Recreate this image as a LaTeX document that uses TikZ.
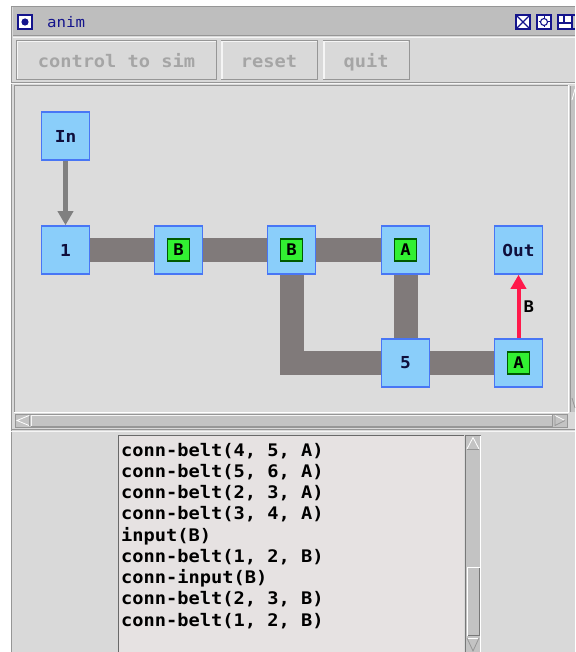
\documentclass[tikz,border=0pt]{standalone}
\usepackage{fontspec}
\newfontfamily\mono[FakeStretch=1.08]{DejaVu Sans Mono}
\usetikzlibrary{arrows.meta}
\definecolor{winbg}{RGB}{217,217,217}
\definecolor{titlebg}{RGB}{190,190,190}
\definecolor{canvasbg}{RGB}{220,220,220}
\definecolor{edgedark}{RGB}{150,150,150}
\definecolor{edgelight}{RGB}{245,245,245}
\definecolor{trough}{RGB}{195,195,195}
\definecolor{textbg}{RGB}{230,226,226}
\definecolor{navy}{RGB}{20,20,140}
\definecolor{nodetext}{RGB}{15,15,60}
\definecolor{nodefill}{RGB}{138,206,250}
\definecolor{nodeedge}{RGB}{72,118,245}
\definecolor{beltcol}{RGB}{128,122,122}
\definecolor{greenfill}{RGB}{50,240,50}
\definecolor{greenedge}{RGB}{0,90,0}
\definecolor{redarrow}{RGB}{255,25,75}
\definecolor{grayarrow}{RGB}{128,128,128}
\definecolor{btntext}{RGB}{165,165,165}
\begin{document}
\begin{tikzpicture}[x=1pt,y=-1pt,
  bluebox/.style={draw=nodeedge, line width=1.6pt, fill=nodefill, minimum size=48pt, inner sep=0pt,
    font=\mono\bfseries\fontsize{16.5}{16.5}\selectfont, text=nodetext},
  greenbox/.style={draw=greenedge, line width=1.3pt, fill=greenfill, minimum size=22pt, inner sep=0pt,
    font=\mono\bfseries\fontsize{16}{16}\selectfont, text=black},
  belt/.style={draw=beltcol, line width=24pt, line join=miter},
  btnlabel/.style={anchor=base, font=\mono\bfseries\fontsize{17.3}{17.3}\selectfont, text=btntext, inner sep=0pt},
  logline/.style={anchor=base west, font=\mono\bfseries\fontsize{17.3}{17.3}\selectfont, text=black, inner sep=0pt},
  button/.style={fill=winbg, draw=edgedark, line width=1pt}
]
\useasboundingbox (0,0) rectangle (575,652);
\fill[white] (0,0) rectangle (575,652);
% window body
\fill[winbg] (11,7) rectangle (575,652);
\draw[edgedark, line width=1.5pt] (11.5,652) -- (11.5,6.5) -- (575,6.5);
% title bar
\fill[titlebg] (12.5,7.5) rectangle (575,35);
\draw[edgedark, line width=1.2pt] (12.5,35.6) -- (575,35.6);
\draw[edgelight, line width=0.8pt] (12.5,37) -- (575,37);
% title icon
\draw[navy, line width=1.3pt, fill=white] (18,15) rectangle (32,29);
\fill[navy] (25,22) circle (3.6);
\node[anchor=base west, inner sep=0pt, text=navy, font=\mono\fontsize{14.6}{14.6}\selectfont] (title) at (47,28) {anim};
% right title icons
\draw[navy, line width=1.1pt, fill=white] (516,15) rectangle (530,29);
\draw[navy, line width=1.1pt] (516,15) -- (530,29) (530,15) -- (516,29);
\draw[navy, line width=1.1pt, fill=white] (537,15) rectangle (551,29);
\draw[navy, line width=1.1pt] (544,22) circle (3.5);
\draw[navy, line width=1pt] (544,16.5) -- (544,18.5) (544,25.5) -- (544,27.5) (538.5,22) -- (540.5,22) (547.5,22) -- (549.5,22);
\draw[navy, line width=1.1pt, fill=white] (558,15) rectangle (572,29);
\draw[navy, line width=1.1pt] (558,23) -- (572,23) (564,15) -- (564,23);
\draw[navy, line width=1.1pt] (572,15) -- (575,15) (572,29) -- (575,29);
% buttons
\draw[button] (16.5,40.5) rectangle (216.5,80);
\draw[edgelight, line width=1.2pt] (17.5,79) -- (17.5,41.5) -- (215.5,41.5);
\draw[button] (221,40.5) rectangle (317.5,80);
\draw[edgelight, line width=1.2pt] (222,79) -- (222,41.5) -- (316.5,41.5);
\draw[button] (323,40.5) rectangle (409,80);
\draw[edgelight, line width=1.2pt] (324,79) -- (324,41.5) -- (408,41.5);
\node[btnlabel] (bctl) at (116.5,67.5) {control to sim};
\node[btnlabel] (breset) at (269,67.5) {reset};
\node[btnlabel] (bquit) at (366,67.5) {quit};
% canvas frame
\draw[edgedark, line width=1pt] (11,82.5) -- (575,82.5);
\draw[edgelight, line width=1pt] (11,84) -- (575,84);
\fill[canvasbg] (15,86) rectangle (567,412);
\draw[edgedark, line width=1.2pt] (14.2,412.5) -- (14.2,85.3) -- (568,85.3);
\draw[white, line width=1pt] (568,85.3) -- (568,412.3) -- (14.2,412.3);
% horizontal scrollbar
\fill[trough] (15,414) rectangle (567,427);
\draw[edgedark, line width=0.8pt] (15,414) rectangle (567,427);
\draw[edgelight, line width=1pt] (31,426) -- (31,415) -- (552,415);
\draw[edgedark, line width=1pt] (552,415) -- (552,426) -- (31,426);
\draw[white, line width=0.8pt] (29,415.5) -- (17,420.5) -- (29,425.5);
\draw[edgedark, line width=0.8pt] (29,415.5) -- (29,425.5);
\draw[white, line width=0.8pt] (555,415.5) -- (565,420.5);
\draw[edgedark, line width=0.8pt] (565,420.5) -- (555,425.5) -- (555,415.5);
% canvas vertical scrollbar (cut off)
\fill[trough] (571,86) rectangle (575,412);
\draw[edgedark, line width=0.8pt] (570.5,86) -- (570.5,412);
\draw[white, line width=0.8pt] (572,100) -- (575,89);
\draw[edgedark, line width=0.8pt] (572,398) -- (575,408);
% separator
\draw[edgedark, line width=1pt] (11,429.5) -- (575,429.5);
\draw[edgelight, line width=1pt] (11,431) -- (575,431);
% text area
\fill[textbg] (118,435) rectangle (463.5,652);
\draw[edgedark!70!black, line width=1.2pt] (118.6,652) -- (118.6,435.6) -- (463.5,435.6);
% text area scrollbar
\fill[trough] (465,435) rectangle (481,652);
\draw[edgedark!80!black, line width=1.2pt] (465.6,652) -- (465.6,435.6) -- (481,435.6);
\draw[white, line width=0.8pt] (480.5,435.6) -- (480.5,652);
\draw[white, line width=0.8pt] (467,449) -- (473,437.5) -- (479,449);
\draw[edgedark, line width=0.8pt] (467,449) -- (479,449);
\fill[trough] (467,567) rectangle (479.5,636);
\draw[white, line width=1pt] (467.5,635.5) -- (467.5,567.5) -- (479.5,567.5);
\draw[edgedark!80!black, line width=1pt] (479,567.5) -- (479,635.5) -- (467.5,635.5);
\draw[white, line width=0.8pt] (467,638) -- (479,638);
\draw[edgedark, line width=0.8pt] (467,638) -- (473,651) -- (479,638);
% log lines
\node[logline] (l1) at (121,456) {conn-belt(4, 5, A)};
\node[logline] (l2) at (121,477.25) {conn-belt(5, 6, A)};
\node[logline] (l3) at (121,498.5) {conn-belt(2, 3, A)};
\node[logline] (l4) at (121,519.75) {conn-belt(3, 4, A)};
\node[logline] (l5) at (121,541) {input(B)};
\node[logline] (l6) at (121,562.25) {conn-belt(1, 2, B)};
\node[logline] (l7) at (121,583.5) {conn-input(B)};
\node[logline] (l8) at (121,604.75) {conn-belt(2, 3, B)};
\node[logline] (l9) at (121,626) {conn-belt(1, 2, B)};
% node positions
\coordinate (pIn) at (65.5,136);
\coordinate (p1) at (65.5,250);
\coordinate (pB1) at (178.5,250);
\coordinate (pB2) at (291.5,250);
\coordinate (pA1) at (405.5,250);
\coordinate (pOut) at (518.5,250);
\coordinate (p5) at (405.5,363);
\coordinate (pA2) at (518.5,363);
% belts
\draw[belt] (p1) -- (pA1);
\draw[belt] (pB2) |- (p5);
\draw[belt] (pA1) -- (p5) -- (pA2);
% nodes
\node[bluebox] (nIn) at (pIn) {In};
\node[bluebox] (n1) at (p1) {1};
\node[bluebox] (nB1) at (pB1) {};
\node[greenbox] (gB1) at (pB1) {B};
\node[bluebox] (nB2) at (pB2) {};
\node[greenbox] (gB2) at (pB2) {B};
\node[bluebox] (nA1) at (pA1) {};
\node[greenbox] (gA1) at (pA1) {A};
\node[bluebox] (nOut) at (pOut) {Out};
\node[bluebox] (n5) at (p5) {5};
\node[bluebox] (nA2) at (pA2) {};
\node[greenbox] (gA2) at (pA2) {A};
% arrows
\draw[grayarrow, line width=4.5pt, -{Triangle[length=14pt,width=15pt]}] (nIn.south) -- (n1.north);
\draw[redarrow, line width=4pt, -{Triangle[length=14pt,width=15pt]}] (nA2.north) -- node[right, inner sep=3pt, text=black, font=\mono\bfseries\fontsize{16}{16}\selectfont] (lblB) {B} (nOut.south);
\end{tikzpicture}
\end{document}
